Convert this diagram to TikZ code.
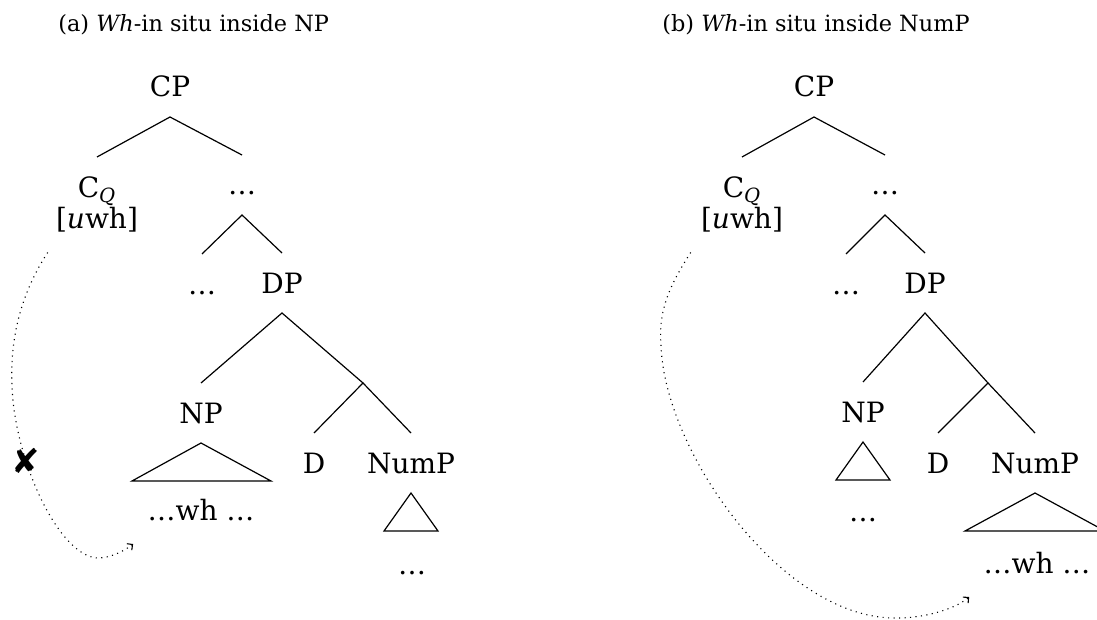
\documentclass[tikz,border=0pt]{standalone}
\usepackage{fontspec}
\setmainfont{DejaVu Serif}
\newfontfamily\symbfont{DejaVu Sans}
\usetikzlibrary{arrows.meta}

\begin{document}
\begin{tikzpicture}[
		x=0.5pt, y=-0.5pt,
		lbl/.style={inner sep=0pt, outer ysep=10pt, anchor=base, text height=10pt, text depth=0pt, font=\fontsize{14}{13.5}\selectfont},
		feat/.style={inner sep=0pt, outer ysep=10pt, anchor=north, align=center, font=\fontsize{14}{13.5}\selectfont},
		ttl/.style={inner sep=0pt, anchor=base west, font=\fontsize{11.2}{13}\selectfont},
		branch/.style={line width=0.6pt},
		agree/.style={line width=0.55pt, dash pattern=on 0.55pt off 2.2pt, -{Straight Barb[length=2pt,width=4pt]}}
		]
		
		% Parameters
		\def\roofh{38}
		
		\useasboundingbox (0,0) rectangle (1097,620);
		
		% Titles
		\node[ttl] (ttlA) at (58,32) {(a) \textit{Wh}-in situ inside NP};
		\node[ttl] (ttlB) at (662,32) {(b) \textit{Wh}-in situ inside NumP};
		
		% Tree (a)
		\node[lbl] (cpA) at (170,97) {CP};
		\node[feat] (cqA) at (97,157) {C\textsubscript{\textit{Q}}\\{}[\textit{u}wh]};
		\node[lbl] (dotsA1) at (242,195) {…};
		\node[lbl] (dotsA2) at (202,294) {…};
		\node[lbl] (dpA) at (282,293) {DP};
		\coordinate (jA) at (363,383);
		\node[lbl] (npA) at (201,423) {NP};
		\node[lbl] (whA) at (201,520) {…wh …};
		\node[lbl] (dA) at (314,473) {D};
		\node[lbl] (numpA) at (411,473) {NumP};
		\node[lbl] (dotsA3) at (412,574) {…};
		
		\draw[branch] (cqA.north) -- (cpA.south) -- (dotsA1.north);
		\draw[branch] (dotsA2.north) -- (dotsA1.south) -- (dpA.north);
		\draw[branch] (npA.north) -- (dpA.south) -- (jA);
		\draw[branch] (dA.north) -- (jA) -- (numpA.north);
		\draw[branch] (npA.south) -- ++(-69,\roofh) -- ++(139,0) -- cycle;
		\draw[branch] (numpA.south) -- ++(-27,\roofh) -- ++(54,0) -- cycle;
		
		% Failed agreement
		\draw[agree] ([xshift=-4pt]cqA.south west) .. controls (20,295) and (10,340) .. (12,385)
			.. controls (14,460) and (60,560) .. (100,558)
			.. controls (112,557) and (124,551) .. ([xshift=-7pt,yshift=-2pt]whA.south west);
		\node[inner sep=0pt, font=\symbfont\fontsize{17}{17}\selectfont] (xA) at (26,461) {✘};
		
		% Tree (b)
		\node[lbl] (cpB) at (814,97) {CP};
		\node[feat] (cqB) at (742,157) {C\textsubscript{\textit{Q}}\\{}[\textit{u}wh]};
		\node[lbl] (dotsB1) at (885,195) {…};
		\node[lbl] (dotsB2) at (846,294) {…};
		\node[lbl] (dpB) at (925,293) {DP};
		\coordinate (jB) at (988,383);
		\node[lbl] (npB) at (863,422) {NP};
		\node[lbl] (dotsB3) at (863,521) {…};
		\node[lbl] (dB) at (938,473) {D};
		\node[lbl] (numpB) at (1035,473) {NumP};
		\node[lbl] (whB) at (1037,573) {…wh …};
		
		\draw[branch] (cqB.north) -- (cpB.south) -- (dotsB1.north);
		\draw[branch] (dotsB2.north) -- (dotsB1.south) -- (dpB.north);
		\draw[branch] (npB.north) -- (dpB.south) -- (jB);
		\draw[branch] (dB.north) -- (jB) -- (numpB.north);
		\draw[branch] (npB.south) -- ++(-27,\roofh) -- ++(54,0) -- cycle;
		\draw[branch] (numpB.south) -- ++(-70,\roofh) -- ++(140,0) -- cycle;
		
		% Agreement
		\draw[agree] ([xshift=-5pt]cqB.south west) .. controls (670,285) and (658,310) .. (661,345)
			.. controls (664,450) and (780,616) .. (893,618)
			.. controls (920,619) and (954,610) .. ([xshift=-7pt,yshift=-2pt]whB.south west);
		
	\end{tikzpicture}
\end{document}
